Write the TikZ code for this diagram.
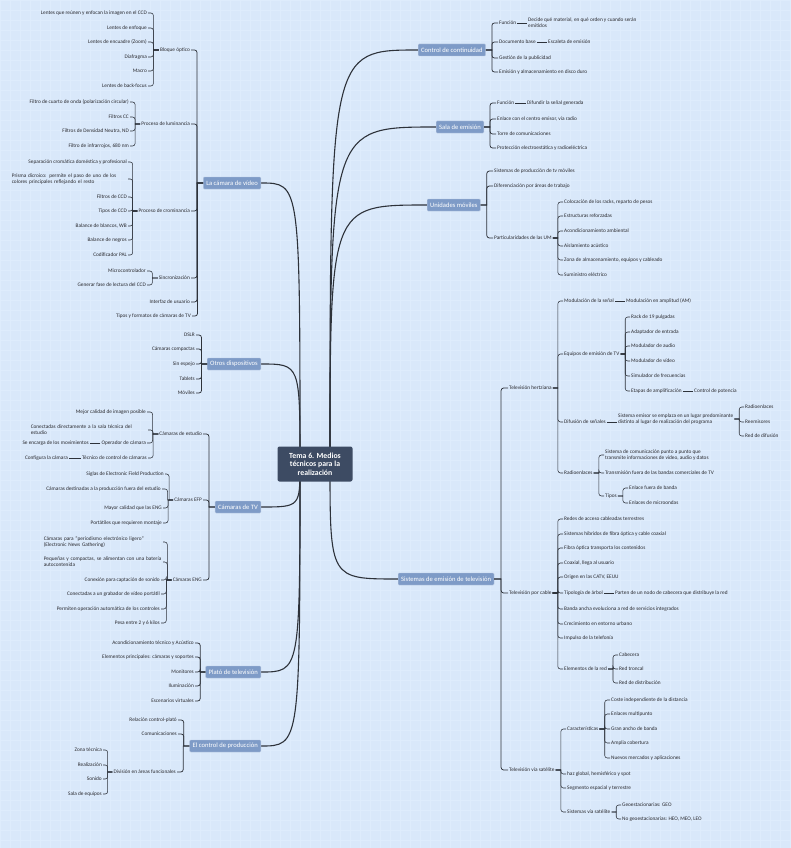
\documentclass[tikz,border=0pt]{standalone}
\usepackage{fontspec}
\setmainfont{Carlito}
\usetikzlibrary{calc,backgrounds}
\definecolor{bgc}{RGB}{217,232,250}
\definecolor{gridc}{RGB}{222,236,252}
\definecolor{topicc}{RGB}{126,155,199}
\definecolor{rootc}{RGB}{61,75,99}
\definecolor{textc}{RGB}{40,40,45}
\definecolor{linec}{RGB}{45,50,58}
\tikzset{
  lt/.style={font=\fontsize{5.3}{5.9}\selectfont, text=textc, inner sep=1pt, anchor=east, align=right},
  rt/.style={font=\fontsize{5.3}{5.9}\selectfont, text=textc, inner sep=1pt, anchor=west, align=left},
  topic/.style={fill=topicc, draw=white!45!topicc, line width=0.4pt, text=white, font=\fontsize{6.6}{7.4}\selectfont, inner xsep=3pt, inner ysep=0pt, minimum height=12pt, rounded corners=1pt},
  root/.style={fill=rootc, text=white, font=\bfseries\fontsize{7.8}{8.6}\selectfont, align=center, minimum width=75pt, minimum height=35pt, rounded corners=2pt, inner sep=2pt},
  br/.style={to path={-- ($(\tikztostart)!.5!(\tikztotarget |- \tikztostart)$) [rounded corners=2.5pt] |- (\tikztotarget) \tikztonodes}},
  l2/.style={draw=linec, line width=0.75pt},
  l3/.style={draw=linec, line width=0.55pt},
  mainl/.style={draw=linec, line width=1.1pt},
}
\newcommand\lkid[5][l3]{\node[lt] (#3) at (#4) {#5}; \draw[#1] (#2.west) to[br] (#3.east);}
\newcommand\rkid[5][l3]{\node[rt] (#3) at (#4) {#5}; \draw[#1] (#2.east) to[br] (#3.west);}
\begin{document}
\begin{tikzpicture}[x=1pt,y=-1pt]
\useasboundingbox (0,0) rectangle (791,848);
\begin{scope}[on background layer]
  \fill[bgc] (0,0) rectangle (791,848);
  \draw[gridc, line width=0.3pt] (0,0) grid[step=10pt] (791,848);
\end{scope}

% root
\node[root] (ctr) at (315,464) {Tema 6. Medios\\técnicos para la\\realización};
\coordinate (cl) at ([xshift=-15pt]ctr.center);
\coordinate (cr) at ([xshift=15pt]ctr.center);

% main topics
\node[topic,anchor=east] (cam) at (261,183) {La cámara de vídeo};
\node[topic,anchor=east] (otr) at (261,364) {Otros dispositivos};
\node[topic,anchor=east] (ctv) at (261,507) {Cámaras de TV};
\node[topic,anchor=east] (pla) at (261,672) {Plató de televisión};
\node[topic,anchor=east] (cpr) at (261,746) {El control de producción};
\node[topic,anchor=west] (cc) at (418,50) {Control de continuidad};
\node[topic,anchor=west] (se) at (436,127) {Sala de emisión};
\node[topic,anchor=west] (um) at (427,205) {Unidades móviles};
\node[topic,anchor=west] (si) at (398,579) {Sistemas de emisión de televisión};

\begin{scope}[on background layer]
  \foreach \t in {cam,otr,ctv,pla,cpr}
    \draw[mainl] (cl) .. controls (cl |- \t.east) and (cl |- \t.east) .. (\t.east);
  \foreach \t in {cc,se,um,si}
    \draw[mainl] (cr) .. controls (cr |- \t.west) and (cr |- \t.west) .. (\t.west);
\end{scope}

% ---------- La cámara de vídeo
\lkid[l2]{cam}{bo}{191,50}{Bloque óptico}
\lkid[l2]{cam}{plu}{191,124}{Proceso de luminancia}
\lkid[l2]{cam}{pcr}{191,211}{Proceso de crominancia}
\lkid[l2]{cam}{syn}{191,278}{Sincronización}
\lkid[l2]{cam}{iu}{191,302}{Interfaz de usuario}
\lkid[l2]{cam}{tf}{192,316}{Tipos y formatos de cámaras de TV}

\lkid{bo}{bo1}{148,13}{Lentes que reúnen y enfocan la imagen en el CCD}
\lkid{bo}{bo2}{148,28}{Lentes de enfoque}
\lkid{bo}{bo3}{148,42}{Lentes de encuadre (Zoom)}
\lkid{bo}{bo4}{148,57}{Diafragma}
\lkid{bo}{bo5}{148,71}{Macro}
\lkid{bo}{bo6}{148,86}{Lentes de back-focus}

\lkid{plu}{pl1}{130,102}{Filtro de cuarto de onda (polarización circular)}
\lkid{plu}{pl2}{130,117}{Filtros CC}
\lkid{plu}{pl3}{130,131}{Filtros de Densidad Neutra, ND}
\lkid{plu}{pl4}{130,146}{Filtro de infrarrojos, 680 nm}

\lkid{pcr}{pc1}{128,162}{Separación cromática doméstica y profesional}
\node[lt, align=left, text width=115pt] (pc2) at (128,179) {Prisma dicroico: permite el paso de uno de los\\colores principales reflejando el resto};
\draw[l3] (pcr.west) to[br] (pc2.east);
\lkid{pcr}{pc3}{128,197}{Filtros de CCD}
\lkid{pcr}{pc4}{128,211}{Tipos de CCD}
\lkid{pcr}{pc5}{128,226}{Balance de blancos, WB}
\lkid{pcr}{pc6}{128,240}{Balance de negros}
\lkid{pcr}{pc7}{128,255}{Codificador PAL}

\lkid{syn}{sy1}{147,271}{Microcontrolador}
\lkid{syn}{sy2}{147,285}{Generar fase de lectura del CCD}

% ---------- Otros dispositivos
\lkid[l2]{otr}{od1}{196,335}{DSLR}
\lkid[l2]{otr}{od2}{196,349}{Cámaras compactas}
\lkid[l2]{otr}{od3}{196,364}{Sin espejo}
\lkid[l2]{otr}{od4}{196,379}{Tablets}
\lkid[l2]{otr}{od5}{196,393}{Móviles}

% ---------- Cámaras de TV
\lkid[l2]{ctv}{ces}{203,434}{Cámaras de estudio}
\lkid[l2]{ctv}{efp}{203,500}{Cámaras EFP}
\lkid[l2]{ctv}{eng}{203,580}{Cámaras ENG}

\lkid{ces}{ce1}{147,412}{Mejor calidad de imagen posible}
\node[lt, align=left, text width=116pt] (ce2) at (148,430) {Conectadas directamente a la sala técnica del\\estudio};
\draw[l3] (ces.west) to[br] (ce2.east);
\lkid{ces}{ce3}{147,443}{Operador de cámara}
\lkid{ces}{ce4}{148,458}{Técnico de control de cámaras}
\node[lt] (ce3a) at (90,443) {Se encarga de los movimientos};
\draw[l3] (ce3.west) -- (ce3a.east);
\node[lt] (ce4a) at (69,458) {Configura la cámara};
\draw[l3] (ce4.west) -- (ce4a.east);

\lkid{efp}{ef1}{165,474}{Siglas de Electronic Field Production}
\lkid{efp}{ef2}{162,489}{Cámaras destinadas a la producción fuera del estudio}
\lkid{efp}{ef3}{163,508}{Mayor calidad que las ENG}
\lkid{efp}{ef4}{163,523}{Portátiles que requieren montaje}

\node[lt, align=left, text width=118pt] (en1) at (163,542) {Cámaras para "periodismo electrónico ligero"\\(Electronic News Gathering)};
\draw[l3] (eng.west) to[br] (en1.east);
\node[lt, align=left, text width=118pt] (en2) at (163,562) {Pequeñas y compactas, se alimentan con una batería\\autocontenida};
\draw[l3] (eng.west) to[br] (en2.east);
\lkid{eng}{en3}{161,580}{Conexión para captación de sonido}
\lkid{eng}{en4}{161,594}{Conectadas a un grabador de vídeo portátil}
\lkid{eng}{en5}{161,609}{Permiten operación automática de los controles}
\lkid{eng}{en6}{161,623}{Pesa entre 2 y 6 kilos}

% ---------- Plató
\lkid[l2]{pla}{pt1}{195,643}{Acondicionamiento técnico y Acústico}
\lkid[l2]{pla}{pt2}{195,657}{Elementos principales: cámaras y soportes}
\lkid[l2]{pla}{pt3}{195,672}{Monitores}
\lkid[l2]{pla}{pt4}{195,686}{Iluminación}
\lkid[l2]{pla}{pt5}{195,701}{Escenarios virtuales}

% ---------- Control de producción
\lkid[l2]{cpr}{cp1}{178,720}{Relación control-plató}
\lkid[l2]{cpr}{cp2}{178,734}{Comunicaciones}
\lkid[l2]{cpr}{div}{177,772}{División en áreas funcionales}
\lkid{div}{dv1}{103,750}{Zona técnica}
\lkid{div}{dv2}{103,765}{Realización}
\lkid{div}{dv3}{103,779}{Sonido}
\lkid{div}{dv4}{103,794}{Sala de equipos}

% ---------- Control de continuidad
\rkid[l2]{cc}{cf}{498,23}{Función}
\rkid[l2]{cc}{cd}{498,42}{Documento base}
\rkid[l2]{cc}{cg}{498,58}{Gestión de la publicidad}
\rkid[l2]{cc}{ce}{498,72}{Emisión y almacenamiento en disco duro}
\node[rt] (cfa) at (527,23) {Decide qué material, en qué orden y cuando serán\\emitidos};
\draw[l3] (cf.east) -- (cf.east -| cfa.west);
\node[rt] (cda) at (547,42) {Escaleta de emisión};
\draw[l3] (cd.east) -- (cda.west);

% ---------- Sala de emisión
\rkid[l2]{se}{sf}{496,103}{Función}
\rkid[l2]{se}{s2}{496,119}{Enlace con el centro emisor, vía radio}
\rkid[l2]{se}{s3}{496,134}{Torre de comunicaciones}
\rkid[l2]{se}{s4}{496,148}{Protección electroestática y radioeléctrica}
\node[rt] (sfa) at (526,103) {Difundir la señal generada};
\draw[l3] (sf.east) -- (sfa.west);

% ---------- Unidades móviles
\rkid[l2]{um}{u1}{493,171}{Sistemas de producción de tv móviles}
\rkid[l2]{um}{u2}{493,186}{Diferenciación por áreas de trabajo}
\rkid[l2]{um}{upa}{493,238}{Particularidades de las UM}
\rkid{upa}{up1}{563,202}{Colocación de los racks, reparto de pesos}
\rkid{upa}{up2}{563,216}{Estructuras reforzadas}
\rkid{upa}{up3}{563,231}{Acondicionamiento ambiental}
\rkid{upa}{up4}{563,246}{Aislamiento acústico}
\rkid{upa}{up5}{563,260}{Zona de almacenamiento, equipos y cableado}
\rkid{upa}{up6}{563,275}{Suministro eléctrico}

% ---------- Sistemas de emisión
\rkid[l2]{si}{th}{508,388}{Televisión hertziana}
\rkid[l2]{si}{tc}{508,593}{Televisión por cable}
\rkid[l2]{si}{ts}{508,770}{Televisión vía satélite}

% hertziana
\rkid{th}{mod}{563,301}{Modulación de la señal}
\rkid{th}{eq}{563,354}{Equipos de emisión de TV}
\rkid{th}{dif}{563,422}{Difusión de señales}
\rkid{th}{rad}{563,473}{Radioenlaces}
\node[rt] (moda) at (625,301) {Modulación en amplitud (AM)};
\draw[l3] (mod.east) -- (moda.west);
\rkid{eq}{eq1}{630,317}{Rack de 19 pulgadas}
\rkid{eq}{eq2}{630,332}{Adaptador de entrada}
\rkid{eq}{eq3}{630,346}{Modulador de audio}
\rkid{eq}{eq4}{630,361}{Modulador de vídeo}
\rkid{eq}{eq5}{630,376}{Simulador de frecuencias}
\rkid{eq}{eq6}{630,391}{Etapas de amplificación}
\node[rt] (eq6a) at (693,391) {Control de potencia};
\draw[l3] (eq6.east) -- (eq6a.west);
\node[rt] (difa) at (617,419) {Sistema emisor se emplaza en un lugar predominante\\distinto al lugar de realización del programa};
\draw[l3] (dif.east) -- (dif.east -| difa.west);
\rkid{difa}{df1}{744,407}{Radioenlaces}
\rkid{difa}{df2}{744,422}{Reemisores}
\rkid{difa}{df3}{744,436}{Red de difusión}
\rkid{rad}{ra1}{604,455}{Sistema de comunicación punto a punto que\\transmite informaciones de vídeo, audio y datos}
\rkid{rad}{ra2}{604,473}{Transmisión fuera de las bandas comerciales de TV}
\rkid{rad}{tip}{604,496}{Tipos}
\rkid{tip}{tp1}{628,488}{Enlace fuera de banda}
\rkid{tip}{tp2}{628,503}{Enlaces de microondas}

% cable
\rkid{tc}{tc1}{563,519}{Redes de acceso cableadas terrestres}
\rkid{tc}{tc2}{563,534}{Sistemas híbridos de fibra óptica y cable coaxial}
\rkid{tc}{tc3}{563,548}{Fibra óptica transporta los contenidos}
\rkid{tc}{tc4}{563,563}{Coaxial, llega al usuario}
\rkid{tc}{tc5}{563,577}{Origen en las CATV, EEUU}
\rkid{tc}{tc6}{563,593}{Tipología de árbol}
\rkid{tc}{tc7}{563,609}{Banda ancha evoluciona a red de servicios integrados}
\rkid{tc}{tc8}{563,624}{Crecimiento en entorno urbano}
\rkid{tc}{tc9}{563,638}{Impulso de la telefonía}
\rkid{tc}{ele}{563,669}{Elementos de la red}
\node[rt] (tc6a) at (614,593) {Parten de un nodo de cabecera que distribuye la red};
\draw[l3] (tc6.east) -- (tc6a.west);
\rkid{ele}{el1}{618,655}{Cabecera}
\rkid{ele}{el2}{618,669}{Red troncal}
\rkid{ele}{el3}{618,683}{Red de distribución}

% satélite
\rkid{ts}{car}{566,729}{Características}
\rkid{ts}{ts2}{566,774}{haz global, hemisférico y spot}
\rkid{ts}{ts3}{566,788}{Segmento espacial y terrestre}
\rkid{ts}{svs}{566,812}{Sistemas vía satélite}
\rkid{car}{ca1}{610,700}{Coste independiente de la distancia}
\rkid{car}{ca2}{610,714}{Enlaces multipunto}
\rkid{car}{ca3}{610,729}{Gran ancho de banda}
\rkid{car}{ca4}{610,743}{Amplia cobertura}
\rkid{car}{ca5}{610,758}{Nuevos mercados y aplicaciones}
\rkid{svs}{sv1}{621,805}{Geoestacionarias: GEO}
\rkid{svs}{sv2}{621,819}{No geoestacionarias: HEO, MEO, LEO}
\end{tikzpicture}
\end{document}
